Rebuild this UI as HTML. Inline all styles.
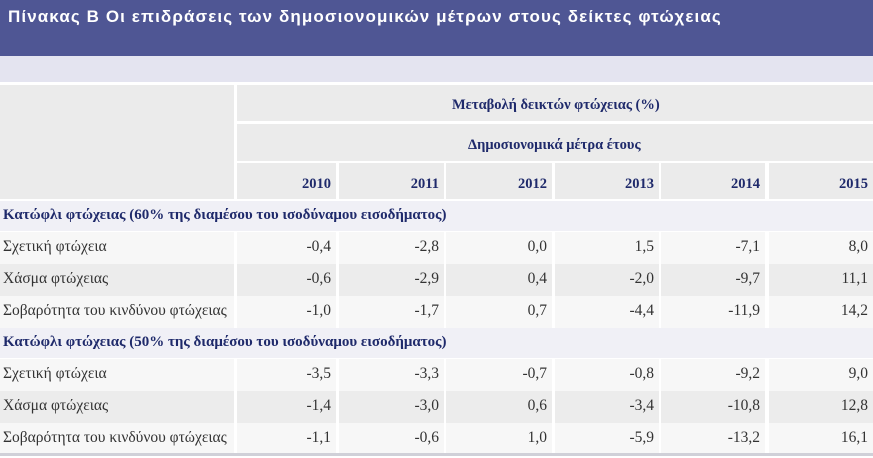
<!DOCTYPE html>
<html><head><meta charset="utf-8"><style>
body{margin:0;width:873px;height:458px;overflow:hidden;background:#fff;position:relative;font-family:"Liberation Serif",serif}
div{position:absolute;box-sizing:border-box;white-space:nowrap}
.title{left:0;top:0;width:873px;height:56px;background:#4f5694;color:#fff;font-family:"Liberation Sans",sans-serif;font-weight:bold;font-size:17px;letter-spacing:1.1px;padding:7px 0 0 8px}
.band{left:0;top:56px;width:873px;height:26px;background:#e4e4f0}
.hc{background:#ebebeb;color:#1f2a6b;font-weight:bold;font-size:14.5px}
.sec{left:0;width:873px;background:#f0f0f6;color:#1f2a6b;font-weight:bold;font-size:15px;padding:6px 0 0 3px}
.c{font-size:15.5px;color:#333;padding-top:6px}
.num{text-align:right;padding-right:5px}
</style></head><body>
<div class="title">Πίνακας Β Οι επιδράσεις των δημοσιονομικών μέτρων στους δείκτες φτώχειας</div>
<div class="band"></div>
<div class="hc" style="left:0;top:85px;width:234px;height:114px"></div>
<div class="hc" style="left:237px;top:85px;width:636px;height:36px;padding:12px 0 0 215px">Μεταβολή δεικτών φτώχειας (%)</div>
<div class="hc" style="left:237px;top:124px;width:636px;height:37px;padding:13px 0 0 231px">Δημοσιονομικά μέτρα έτους</div>
<script>
const years=["2010","2011","2012","2013","2014","2015"];
const rowLabels=["Σχετική φτώχεια","Χάσμα φτώχειας","Σοβαρότητα του κινδύνου φτώχειας"];
const sections=["Κατώφλι φτώχειας (60% της διαμέσου του ισοδύναμου εισοδήματος)","Κατώφλι φτώχειας (50% της διαμέσου του ισοδύναμου εισοδήματος)"];
const values60=[["-0,4","-2,8","0,0","1,5","-7,1","8,0"],["-0,6","-2,9","0,4","-2,0","-9,7","11,1"],["-1,0","-1,7","0,7","-4,4","-11,9","14,2"]];
const values50=[["-3,5","-3,3","-0,7","-0,8","-9,2","9,0"],["-1,4","-3,0","0,6","-3,4","-10,8","12,8"],["-1,1","-0,6","1,0","-5,9","-13,2","16,1"]];
const colL=[237,339,446,555,661,769],colR=[336,444,552,659,765,873];
function mk(cls,st,txt,name){const d=document.createElement('div');d.className=cls;d.style.cssText=st;d.textContent=txt;


document.body.appendChild(d);return d;}
years.forEach((y,i)=>{mk('hc num',`left:${colL[i]}px;top:163px;width:${colR[i]-colL[i]}px;height:36px;padding-top:13px`,y,'year-header-'+y);});
const tops=[201,328],rowBg=["#f7f7f7","#ececec","#f7f7f7"];
[values60,values50].forEach((vals,s)=>{
 mk('sec',`top:${tops[s]}px;height:30px`,sections[s],'section-header-'+(s?'50':'60'));
 rowLabels.forEach((lab,r)=>{const top=tops[s]+31+r*32;
  mk('c',`left:0;top:${top}px;width:234px;height:32px;background:${rowBg[r]};padding-left:3px`,lab,'row-label');
  vals[r].forEach((v,i)=>{mk('c num',`left:${colL[i]}px;top:${top}px;width:${colR[i]-colL[i]}px;height:32px;background:${rowBg[r]}`,v,'cell-'+years[i]);});
 });
});
</script>
<div style="left:0;top:453px;width:873px;height:3px;background:#d0d0d8"></div>
</body></html>
